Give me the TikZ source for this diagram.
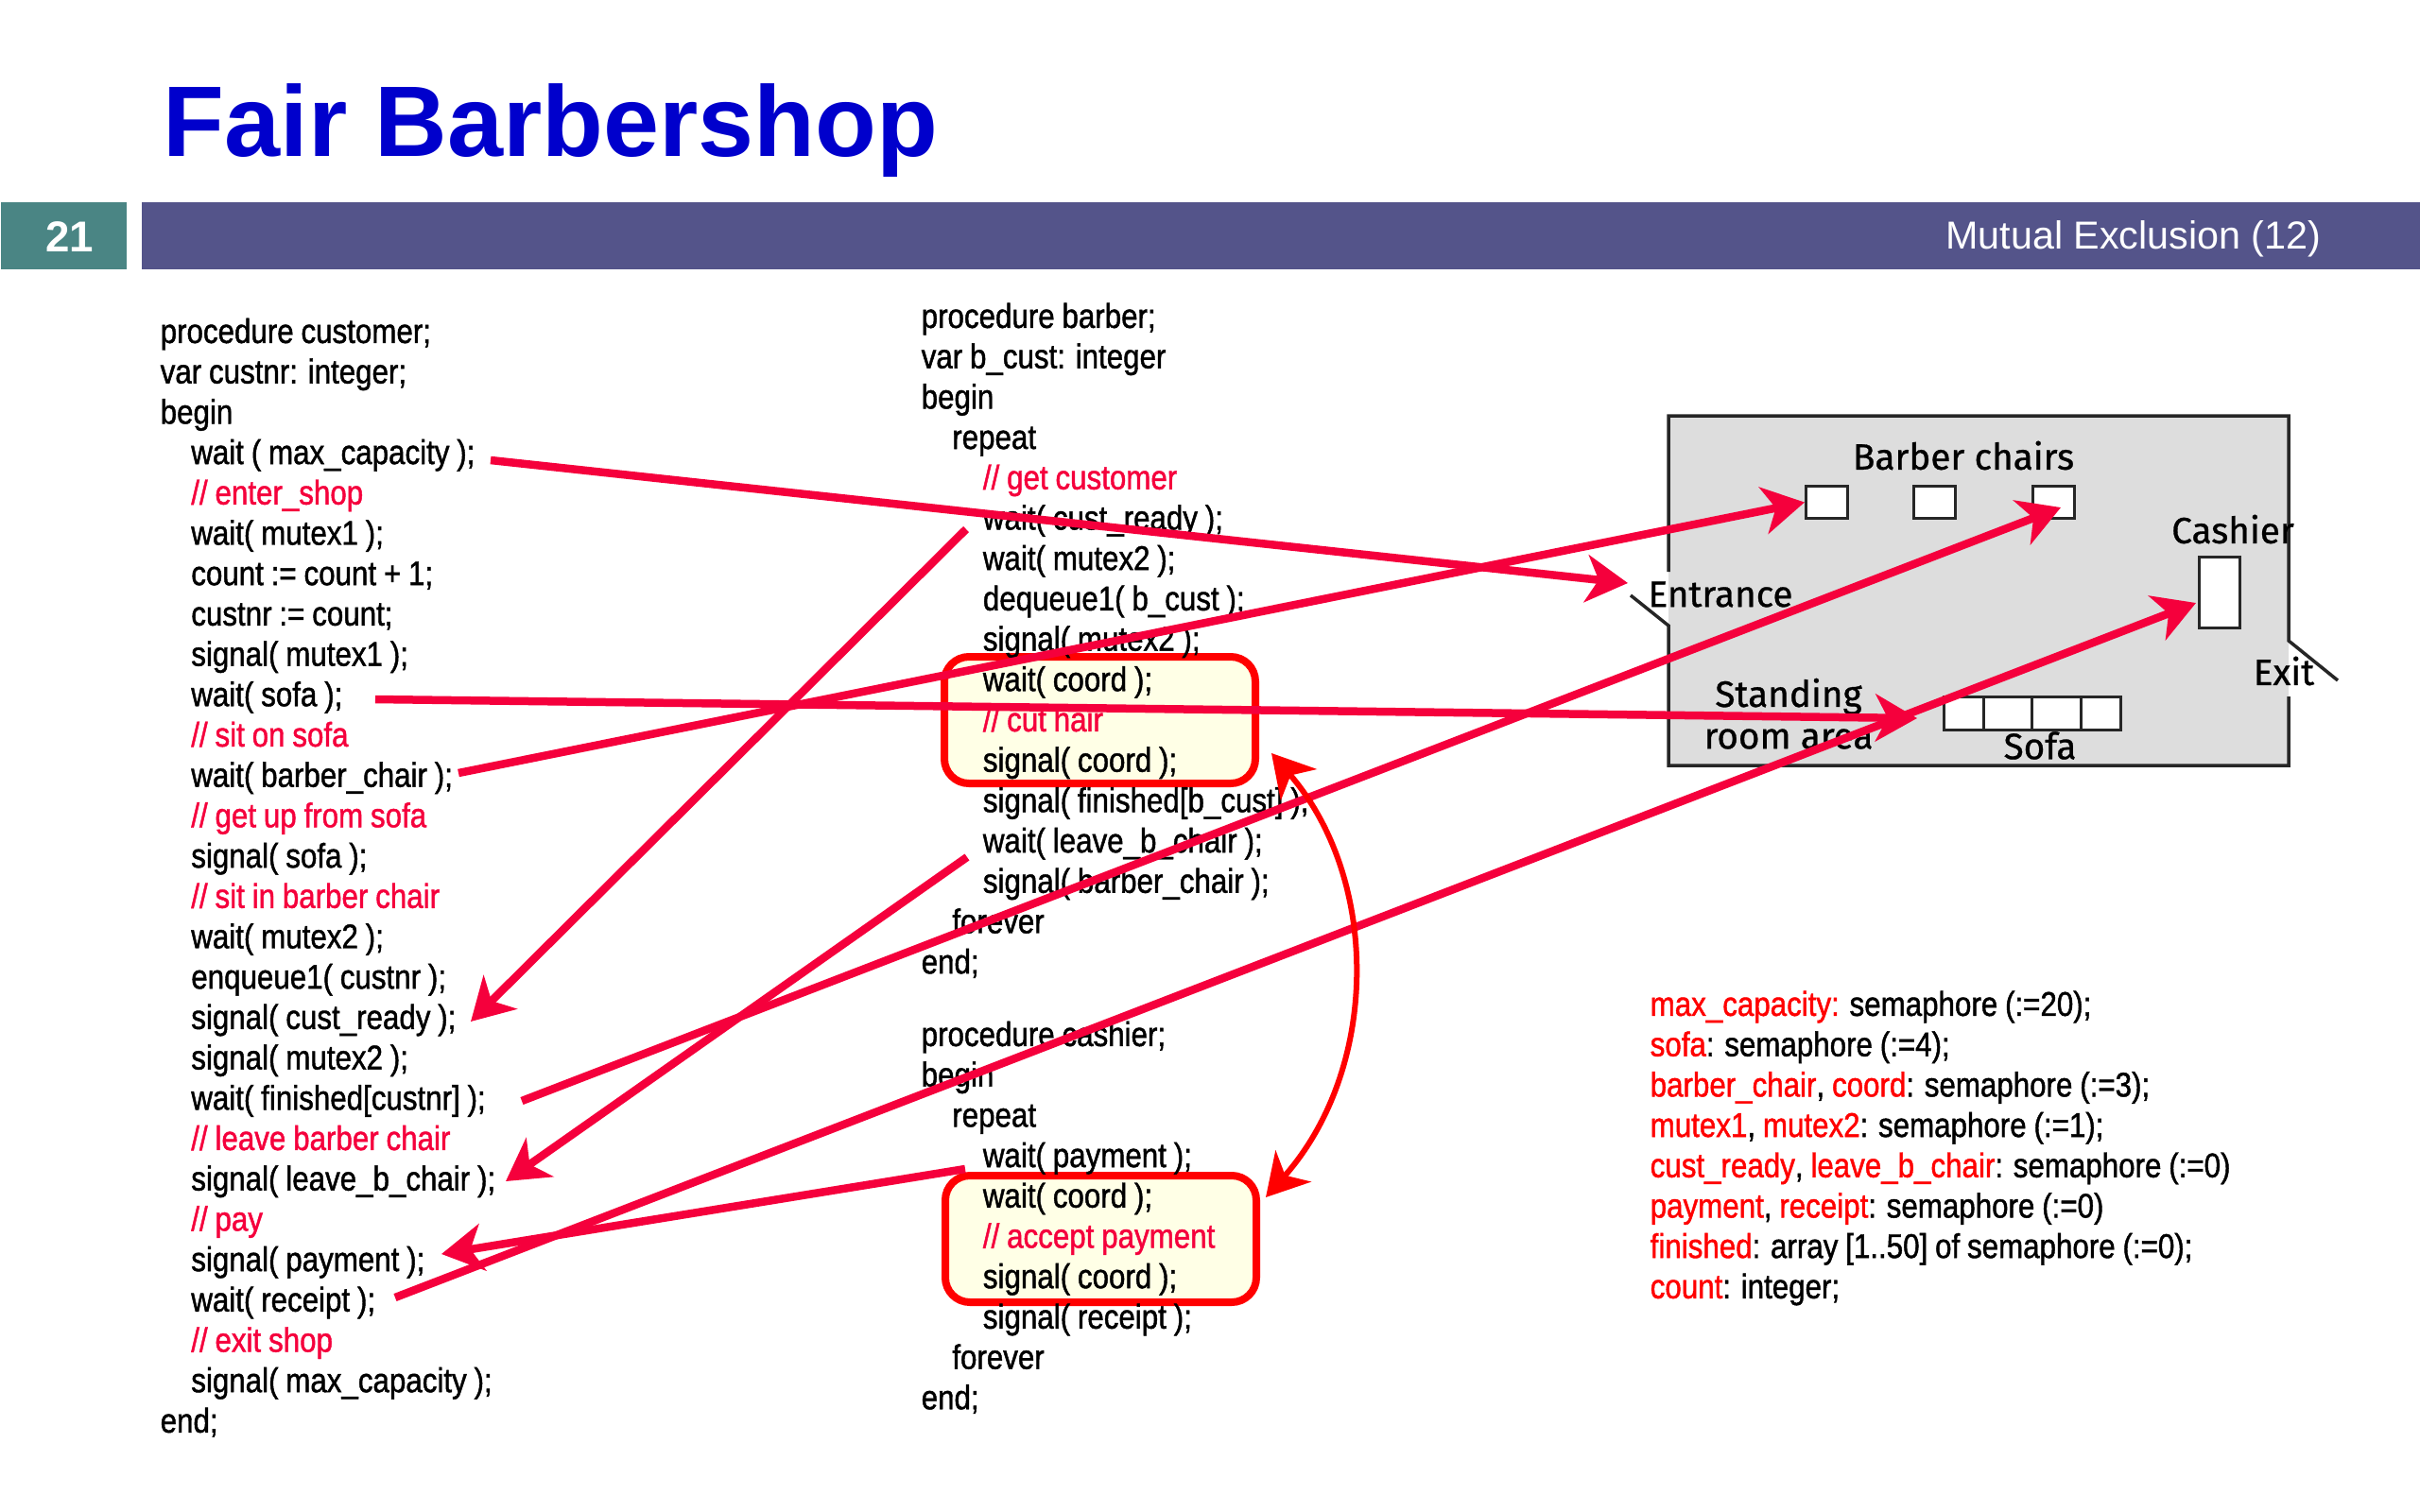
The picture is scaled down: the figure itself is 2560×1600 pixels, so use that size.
\documentclass[tikz,border=0pt]{standalone}
\usepackage{fontspec}
\usepackage{xcolor}
\setmainfont{Liberation Sans}
\newfontfamily\codefont[FakeStretch=0.865,FakeBold=1.2,WordSpace=0.9]{Liberation Sans}
\newfontfamily\shopfont[FakeBold=0.8]{Fira Sans}
\usetikzlibrary{arrows.meta, positioning, calc}
\definecolor{titleblue}{HTML}{0000CC}
\definecolor{barpurple}{HTML}{54548A}
\definecolor{barteal}{HTML}{4A8584}
\definecolor{linkred}{HTML}{F5003C}
\definecolor{noteyellow}{HTML}{FFFFE6}
\definecolor{shopgrey}{HTML}{DDDDDD}
\newcommand{\cmt}[1]{\textcolor{linkred}{#1}}
\newcommand{\sem}[1]{\textcolor{red}{#1}}
\newcommand{\inA}{\hspace*{3.26mm}}
\newcommand{\inB}{\hspace*{6.52mm}}

\begin{document}
\begin{tikzpicture}[
    x=0.1mm, y=-0.1mm,
    >={Stealth[length=4.4mm, width=5mm, inset=1.3mm]},
    title/.style={font=\bfseries\fontsize{30.2}{34}\selectfont, text=titleblue, anchor=base west, inner sep=0},
    barbox/.style={rectangle, minimum height=7.1mm, inner sep=0, anchor=north west},
    bartext/.style={text=white, inner sep=0},
    code/.style={font=\codefont\fontsize{10.3}{12.15}\selectfont, align=left, anchor=north west, inner sep=0},
    notebox/.style={rectangle, rounded corners=2.6mm, draw=red, line width=0.8mm, fill=noteyellow,
      minimum width=32.9mm, minimum height=13.4mm, anchor=north west},
    shoplabel/.style={font=\shopfont\fontsize{11}{13}\selectfont, inner sep=0},
    seat/.style={rectangle, draw=black!85, line width=0.3mm, fill=white, inner sep=0, anchor=north west},
    wall/.style={draw=black!85, line width=0.35mm},
    link/.style={->, draw=linkred, line width=0.85mm},
    coordlink/.style={<->, draw=red, line width=0.6mm}
  ]
  \useasboundingbox (0,0) rectangle (2560,1600);

  % ===== header =====
  \node[title] (heading) at (172,165) {Fair Barbershop};
  \node[barbox, fill=barteal, minimum width=13.3mm] (numbar) at (0,213) {};
  \node[barbox, fill=barpurple, minimum width=241.1mm] (mainbar) at (149,213) {};
  \node[bartext, font=\bfseries\fontsize{13}{15}\selectfont] (slideno) at (74,251) {21};
  \node[bartext, anchor=east, font=\fontsize{11.75}{14}\selectfont] (chapter) at (2456,253) {Mutual Exclusion (12)};

  % ===== critical section boxes =====
  \node[notebox] (cutbox) at (995,691) {};
  \node[notebox] (paybox) at (996,1240) {};

  % ===== code =====
  \node[code] (customer) at (169,336) {%
    procedure customer;\\
    var custnr: integer;\\
    begin\\
    \inA wait ( max\_capacity );\\
    \inA\cmt{// enter\_shop}\\
    \inA wait( mutex1 );\\
    \inA count := count + 1;\\
    \inA custnr := count;\\
    \inA signal( mutex1 );\\
    \inA wait( sofa );\\
    \inA\cmt{// sit on sofa}\\
    \inA wait( barber\_chair );\\
    \inA\cmt{// get up from sofa}\\
    \inA signal( sofa );\\
    \inA\cmt{// sit in barber chair}\\
    \inA wait( mutex2 );\\
    \inA enqueue1( custnr );\\
    \inA signal( cust\_ready );\\
    \inA signal( mutex2 );\\
    \inA wait( finished[custnr] );\\
    \inA\cmt{// leave barber chair}\\
    \inA signal( leave\_b\_chair );\\
    \inA\cmt{// pay}\\
    \inA signal( payment );\\
    \inA wait( receipt );\\
    \inA\cmt{// exit shop}\\
    \inA signal( max\_capacity );\\
    end;};

  \node[code] (barber) at (974,320) {%
    procedure barber;\\
    var b\_cust: integer\\
    begin\\
    \inA repeat\\
    \inB\cmt{// get customer}\\
    \inB wait( cust\_ready );\\
    \inB wait( mutex2 );\\
    \inB dequeue1( b\_cust );\\
    \inB signal( mutex2 );\\
    \inB wait( coord );\\
    \inB\cmt{// cut hair}\\
    \inB signal( coord );\\
    \inB signal( finished[b\_cust] );\\
    \inB wait( leave\_b\_chair );\\
    \inB signal( barber\_chair );\\
    \inA forever\\
    end;};

  \node[code] (cashier) at (974,1080) {%
    procedure cashier;\\
    begin\\
    \inA repeat\\
    \inB wait( payment );\\
    \inB wait( coord );\\
    \inB\cmt{// accept payment}\\
    \inB signal( coord );\\
    \inB signal( receipt );\\
    \inA forever\\
    end;};

  \node[code] (semaphores) at (1745,1048) {%
    \sem{max\_capacity:} semaphore (:=20);\\
    \sem{sofa}: semaphore (:=4);\\
    \sem{barber\_chair}, \sem{coord}: semaphore (:=3);\\
    \sem{mutex1}, \sem{mutex2}: semaphore (:=1);\\
    \sem{cust\_ready}, \sem{leave\_b\_chair}: semaphore (:=0)\\
    \sem{payment}, \sem{receipt}: semaphore (:=0)\\
    \sem{finished}: array [1..50] of semaphore (:=0);\\
    \sem{count}: integer;};

  % ===== shop plan =====
  \fill[shopgrey] (1765,440) rectangle (2421,810);
  \node[coordinate] (shopdoor) at (1765,662) {};
  \node[coordinate] (shopexit) at (2421,678) {};
  \draw[wall] (1765,605) -- (1765,440) -- (2421,440) -- (shopexit) -- (2473,720);
  \draw[wall] (1725,630) -- (shopdoor) -- (1765,810) -- (2421,810) -- (2421,737);

  \node[seat, minimum width=4.4mm, minimum height=3.4mm] (chairA) at (1909,513) {};
  \node[seat, minimum width=4.4mm, minimum height=3.4mm] (chairB) at (2023,513) {};
  \node[seat, minimum width=4.4mm, minimum height=3.4mm] (chairC) at (2149,513) {};
  \node[seat, minimum width=4.3mm, minimum height=7.5mm] (desk) at (2325,588) {};
  \node[seat, minimum width=4.2mm, minimum height=3.5mm] (sofaA) at (2055,736) {};
  \node[seat, minimum width=5.1mm, minimum height=3.5mm] (sofaB) at (2097,736) {};
  \node[seat, minimum width=5.2mm, minimum height=3.5mm] (sofaC) at (2148,736) {};
  \node[seat, minimum width=4.2mm, minimum height=3.5mm] (sofaD) at (2200,736) {};

  \node[shoplabel] (chairslabel) at (2077,482) {Barber chairs};
  \node[shoplabel] (cashierlabel) at (2362,560) {Cashier};
  \node[shoplabel] (entrancelabel) at (1820,629) {Entrance};
  \node[shoplabel] (standinglabel) at (1892,737) {Standing};
  \node[shoplabel] (roomlabel) at (1892,782) {room area};
  \node[shoplabel] (sofalabel) at (2158,789) {Sofa};
  \node[shoplabel] (exitlabel) at (2416,710) {Exit};

  % ===== connector ends =====
  \coordinate (maxcap) at (519,487);
  \coordinate (entry) at (1722,617);
  \coordinate (custready) at (1022,560);
  \coordinate (readysig) at (498,1081);
  \coordinate (chairwait) at (485,818);
  \coordinate (sofawait) at (397,740);
  \coordinate (standing) at (2028,760);
  \coordinate (finwait) at (552,1165);
  \coordinate (chairtip) at (2180,537);
  \coordinate (leavewait) at (1023,907);
  \coordinate (leavesig) at (535,1250);
  \coordinate (recwait) at (418,1373);
  \coordinate (desktip) at (2323,638);
  \coordinate (paywait) at (1021,1237);
  \coordinate (paysig) at (467,1327);
  \coordinate (cuttip) at (1345,797);
  \coordinate (paytip) at (1339,1267);

  % ===== links =====
  \draw[link] (maxcap) -- (entry);
  \draw[link] (custready) -- (readysig);
  \draw[link] (chairwait) -- (chairA.west);
  \draw[link] (sofawait) -- (standing);
  \draw[link] (finwait) -- (chairtip);
  \draw[link] (leavewait) -- (leavesig);
  \draw[link] (recwait) -- (desktip);
  \draw[link] (paywait) -- (paysig);
  \draw[coordlink] (cuttip) .. controls (1460,930) and (1460,1130) .. (paytip);

\end{tikzpicture}
\end{document}
